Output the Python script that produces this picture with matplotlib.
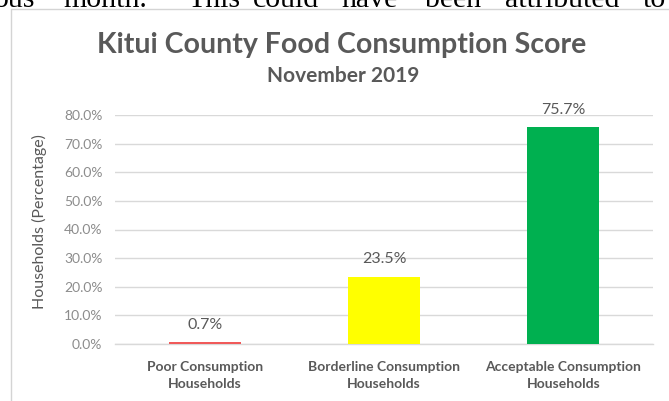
import matplotlib
matplotlib.use("Agg")
import matplotlib.pyplot as plt
from matplotlib.patches import Rectangle

# Food consumption groups and their share of households (%)
categories = ["Poor Consumption\nHouseholds",
              "Borderline Consumption\nHouseholds",
              "Acceptable Consumption\nHouseholds"]
shares = [0.7, 23.5, 75.7]
bar_colors = ["#f05a5a", "#ffff00", "#00b050"]
y_ticks = [0, 10, 20, 30, 40, 50, 60, 70, 80]

title = "Kitui County Food Consumption Score"
subtitle = "November 2019"
y_label = "Households (Percentage)"

W, H = 669, 401
fig = plt.figure(figsize=(W / 100, H / 100), dpi=100)
fig.patch.set_facecolor("white")

FONT = "Lato"
DARK = "#595959"
LIGHT = "#8c8c8c"
GRID = "#d9d9d9"

# running text of the surrounding page, above the chart frame
page_words = [("ous", -6), ("month.", 63), ("This", 187), ("could", 253),
              ("have", 342), ("been", 425), ("attributed", 505), ("to", 643)]
for word, px in page_words:
    fig.text(px / W, 1 - 7 / H, word, family="Liberation Serif",
             fontsize=21.5, color="black", ha="left", va="baseline")

# chart frame
fig.add_artist(Rectangle((11 / W, -0.2), 1.2, (H - 9) / H + 0.2,
                         transform=fig.transFigure, fill=False,
                         edgecolor="#d4d4d4", linewidth=1.0))

ax = fig.add_axes([115 / W, (H - 344) / H, 538 / W, 229 / H])
x = list(range(len(categories)))
ax.bar(x, shares, width=0.4, color=bar_colors, zorder=3)

ax.set_xlim(-0.5, len(categories) - 0.5)
ax.set_ylim(0, 80)
ax.set_yticks(y_ticks)
ax.set_yticklabels([f"{v:.1f}%" for v in y_ticks], family=FONT,
                   fontsize=10, color=LIGHT)
ax.set_xticks(x)
ax.set_xticklabels(categories, family=FONT, fontsize=10,
                   fontweight="bold", color=DARK, linespacing=1.55)
ax.tick_params(axis="y", length=0, pad=9)
ax.tick_params(axis="x", length=0, pad=12)

ax.yaxis.grid(True, color=GRID, linewidth=1.0, zorder=0)
for side in ("top", "right", "left"):
    ax.spines[side].set_visible(False)
ax.spines["bottom"].set_color(GRID)
ax.spines["bottom"].set_linewidth(1.0)

for xi, v in zip(x, shares):
    ax.annotate(f"{v:.1f}%", (xi, v), xytext=(0, 12.5),
                textcoords="offset points", ha="center", va="center",
                family=FONT, fontsize=11.5, color=DARK)

fig.text(342 / W, 1 - 53 / H, title, family=FONT, fontsize=20.5,
         fontweight="bold", color=DARK, ha="center", va="baseline")
fig.text(343 / W, 1 - 82 / H, subtitle, family=FONT, fontsize=15,
         fontweight="bold", color=DARK, ha="center", va="baseline")
fig.text(39 / W, 1 - 222 / H, y_label, family=FONT, fontsize=11.5,
         color=DARK, rotation=90, ha="center", va="center")

fig.savefig("out.png", dpi=100, facecolor="white")
